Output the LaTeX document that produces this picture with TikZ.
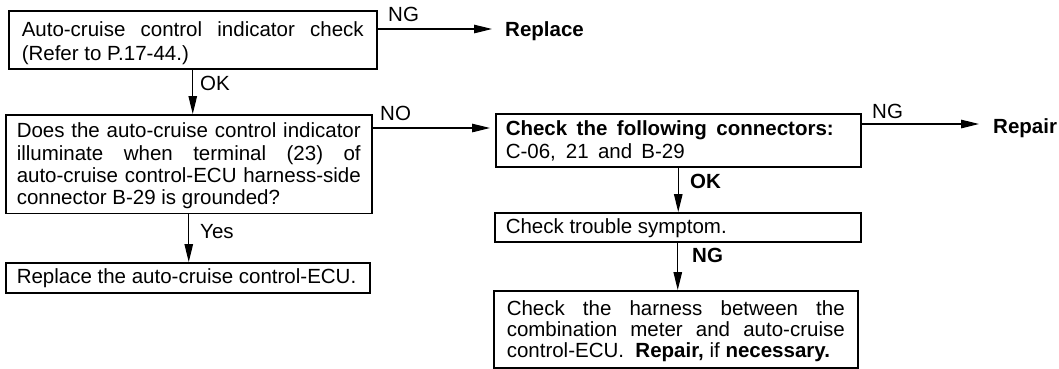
\documentclass[tikz,border=0pt]{standalone}
\usepackage{fontspec}
\setmainfont{Liberation Sans}
\usetikzlibrary{arrows.meta}
\newcommand\fillline[2]{\makebox[#1][s]{\spaceskip=0pt\xspaceskip=0pt #2}}
\newcommand\natsp{\spaceskip=0pt\xspaceskip=0pt\relax}
\begin{document}
\begin{tikzpicture}[x=1pt,y=-1pt,
  box/.style={draw, line width=1.5pt, rectangle, anchor=north west, inner ysep=0pt,
    align=left, font=\fontsize{20.5}{22.3}\selectfont},
  lbl/.style={inner sep=0pt, anchor=base west, font=\fontsize{20.5}{22.3}\selectfont},
  lblb/.style={lbl, font=\fontsize{20.5}{22.3}\selectfont\bfseries},
  conn/.style={line width=1.2pt, -{Triangle[length=18pt,width=8.5pt]}},
]
\useasboundingbox (0,0) rectangle (1059,368);

% boxes
\node[box, inner xsep=13pt, text width=342pt, font=\fontsize{20.5}{24}\selectfont] (b1) at (8,10)
  {\natsp\rule{0pt}{26pt}\fillline{342pt}{Auto-cruise control indicator check}\\
   (Refer to P.17-44.)\rule[-8pt]{0pt}{8pt}};

\node[box, inner xsep=11pt, text width=344pt] (b2) at (5,114)
  {\natsp\rule{0pt}{23pt}\fillline{344pt}{Does the auto-cruise control indicator}\\
   \fillline{344pt}{illuminate when terminal (23) of}\\
   \fillline{344pt}{auto-cruise control-ECU harness-side}\\
   connector B-29 is grounded?\rule[-9pt]{0pt}{9pt}};

\node[box, inner xsep=11pt, text width=342pt] (b6) at (5,262)
  {\natsp\rule{0pt}{21pt}Replace the auto-cruise control-ECU.\rule[-9pt]{0pt}{9pt}};

\node[box, inner xsep=10pt, text width=345pt, font=\fontsize{20.5}{23}\selectfont] (b3) at (495,113)
  {\natsp\rule{0pt}{22pt}\fillline{328pt}{\bfseries Check the following connectors:}\\
   \fillline{179pt}{C-06, 21 and B-29}\rule[-8pt]{0pt}{8pt}};

\node[box, inner xsep=11pt, text width=344pt] (b4) at (494,212)
  {\natsp\rule{0pt}{21pt}Check trouble symptom.\rule[-8pt]{0pt}{8pt}};

\node[box, inner xsep=13pt, text width=338pt, font=\fontsize{20.5}{21}\selectfont] (b5) at (493,290)
  {\natsp\rule{0pt}{25pt}\fillline{338pt}{Check the harness between the}\\
   \fillline{338pt}{combination meter and auto-cruise}\\
   control-ECU.\ \ \textbf{Repair,} if \textbf{necessary.}\rule[-10pt]{0pt}{10pt}};

% labels
\node[lbl]  (ng1)  at (388,21)  {NG};
\node[lblb] (rep1) at (505,36)  {Replace};
\node[lbl]  (ok1)  at (200,90)  {OK};
\node[lbl]  (no)   at (380,120) {NO};
\node[lbl]  (ng2)  at (872,118) {NG};
\node[lblb] (rep2) at (993,133) {Repair};
\node[lblb] (ok2)  at (690,188) {OK};
\node[lblb] (ng3)  at (692,262) {NG};
\node[lbl]  (yes)  at (200,238) {Yes};

% connectors
\coordinate (t1) at ([yshift=-19pt]b1.north east);
\draw[conn, shorten >=13pt] (t1) -- (t1 -| rep1.west);
\coordinate (t2) at ([yshift=-14pt]b2.north east);
\draw[conn, shorten >=5pt] (t2) -- (t2 -| b3.west);
\coordinate (t3) at ([yshift=-11pt]b3.north east);
\draw[conn, shorten >=14pt] (t3) -- (t3 -| rep2.west);
\draw[conn] (b1.south) -- (b1.south |- b2.north);
\draw[conn] (b2.south) -- (b2.south |- b6.north);
\draw[conn] (b3.south) -- (b3.south |- b4.north);
\draw[conn] (b4.south) -- (b4.south |- b5.north);
\end{tikzpicture}
\end{document}
